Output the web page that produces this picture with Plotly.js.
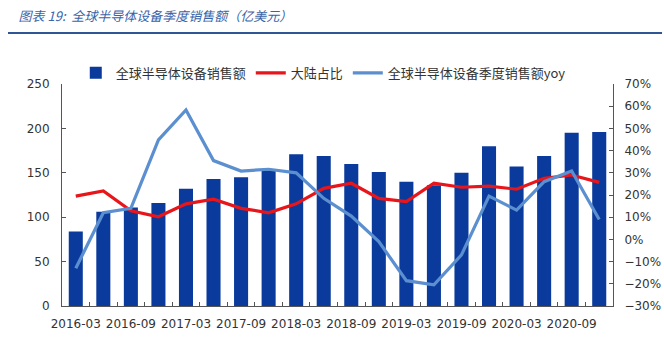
<!DOCTYPE html>
<html>
<head>
<meta charset="utf-8">
<script src="https://cdn.plot.ly/plotly-3.0.1.min.js"></script>
<style>html,body{margin:0;padding:0;background:#fff;}#chart{width:664px;height:338px;}</style>
</head>
<body>
<div id="chart"></div>
<script>
const quarters = ["2016-03","2016-06","2016-09","2016-12","2017-03","2017-06","2017-09","2017-12",
  "2018-03","2018-06","2018-09","2018-12","2019-03","2019-06","2019-09","2019-12",
  "2020-03","2020-06","2020-09","2020-12"];
const salesBn = [84,106,111,116,132,143,145,152,171,169,160,151,140,136,150,180,157,169,195,196];
const chinaShare = [0.195,0.218,0.129,0.102,0.160,0.181,0.140,0.120,0.160,0.230,0.253,0.185,0.170,0.253,0.235,0.240,0.226,0.275,0.290,0.257];
const salesYoy = [-0.13,0.12,0.14,0.448,0.583,0.355,0.308,0.316,0.300,0.185,0.105,-0.01,-0.186,-0.205,-0.07,0.195,0.132,0.26,0.308,0.09];
const tickLabels = quarters.map((q,i)=> i%2===0 ? q : "");

const seriesNames = ["全球半导体设备销售额","大陆占比","全球半导体设备季度销售额yoy"];

const traces = [
  {type:"bar", x:quarters, y:salesBn, name:seriesNames[0], marker:{color:"#0a3b9c"}, yaxis:"y"},
  {type:"scatter", mode:"lines", x:quarters, y:chinaShare, name:seriesNames[1], line:{color:"#e8151b", width:3.2}, yaxis:"y2"},
  {type:"scatter", mode:"lines", x:quarters, y:salesYoy, name:seriesNames[2], line:{color:"#5b8fd0", width:3.2}, yaxis:"y2"}
];

const tickFont = {family:"DejaVu Sans, Verdana, sans-serif", size:12, color:"#333"};

const layout = {
  width:664, height:338,
  margin:{l:62, r:51, t:84, b:32},
  paper_bgcolor:"#fff", plot_bgcolor:"#fff",
  bargap:0.49,
  showlegend:true,
  legend:{orientation:"h", x:0.025, y:1.05, xanchor:"left", yanchor:"middle",
    font:{family:"Noto Sans CJK SC, sans-serif", size:13, color:"#333"}, tracegroupgap:0, itemwidth:30, bgcolor:"rgba(0,0,0,0)"},
  title:{text:"图表 19:  全球半导体设备季度销售额（亿美元）", xref:"container", yref:"container", x:0.028, xanchor:"left", y:0.95, yanchor:"middle",
    font:{family:"Noto Sans CJK SC, sans-serif", size:13, color:"#3a64a8", style:"italic"}},
  xaxis:{type:"category", tickson:"boundaries", tickmode:"array", tickvals:quarters, ticktext:tickLabels,
    ticks:"inside", ticklen:4, tickcolor:"#555", showline:true, linecolor:"#555", linewidth:1,
    showgrid:false, zeroline:false, tickfont:tickFont, tickangle:0, ticklabelstandoff:7},
  yaxis:{range:[0,250], dtick:50, ticks:"inside", ticklen:4, tickcolor:"#555", showline:true, linecolor:"#555",
    showgrid:false, zeroline:false, tickfont:tickFont, ticklabelstandoff:9},
  yaxis2:{overlaying:"y", side:"right", range:[-0.3,0.7], dtick:0.1, tickformat:".0%", ticks:"inside", ticklen:4,
    tickcolor:"#555", showline:true, linecolor:"#555", showgrid:false, zeroline:false, tickfont:tickFont, ticklabelstandoff:8},
  shapes:[{type:"line", xref:"paper", yref:"paper", x0:-0.098, x1:1.089, y0:1.23, y1:1.23, line:{color:"#2f5597", width:2}}]
};

Plotly.newPlot("chart", traces, layout, {displayModeBar:false, staticPlot:true});
</script>
</body>
</html>
